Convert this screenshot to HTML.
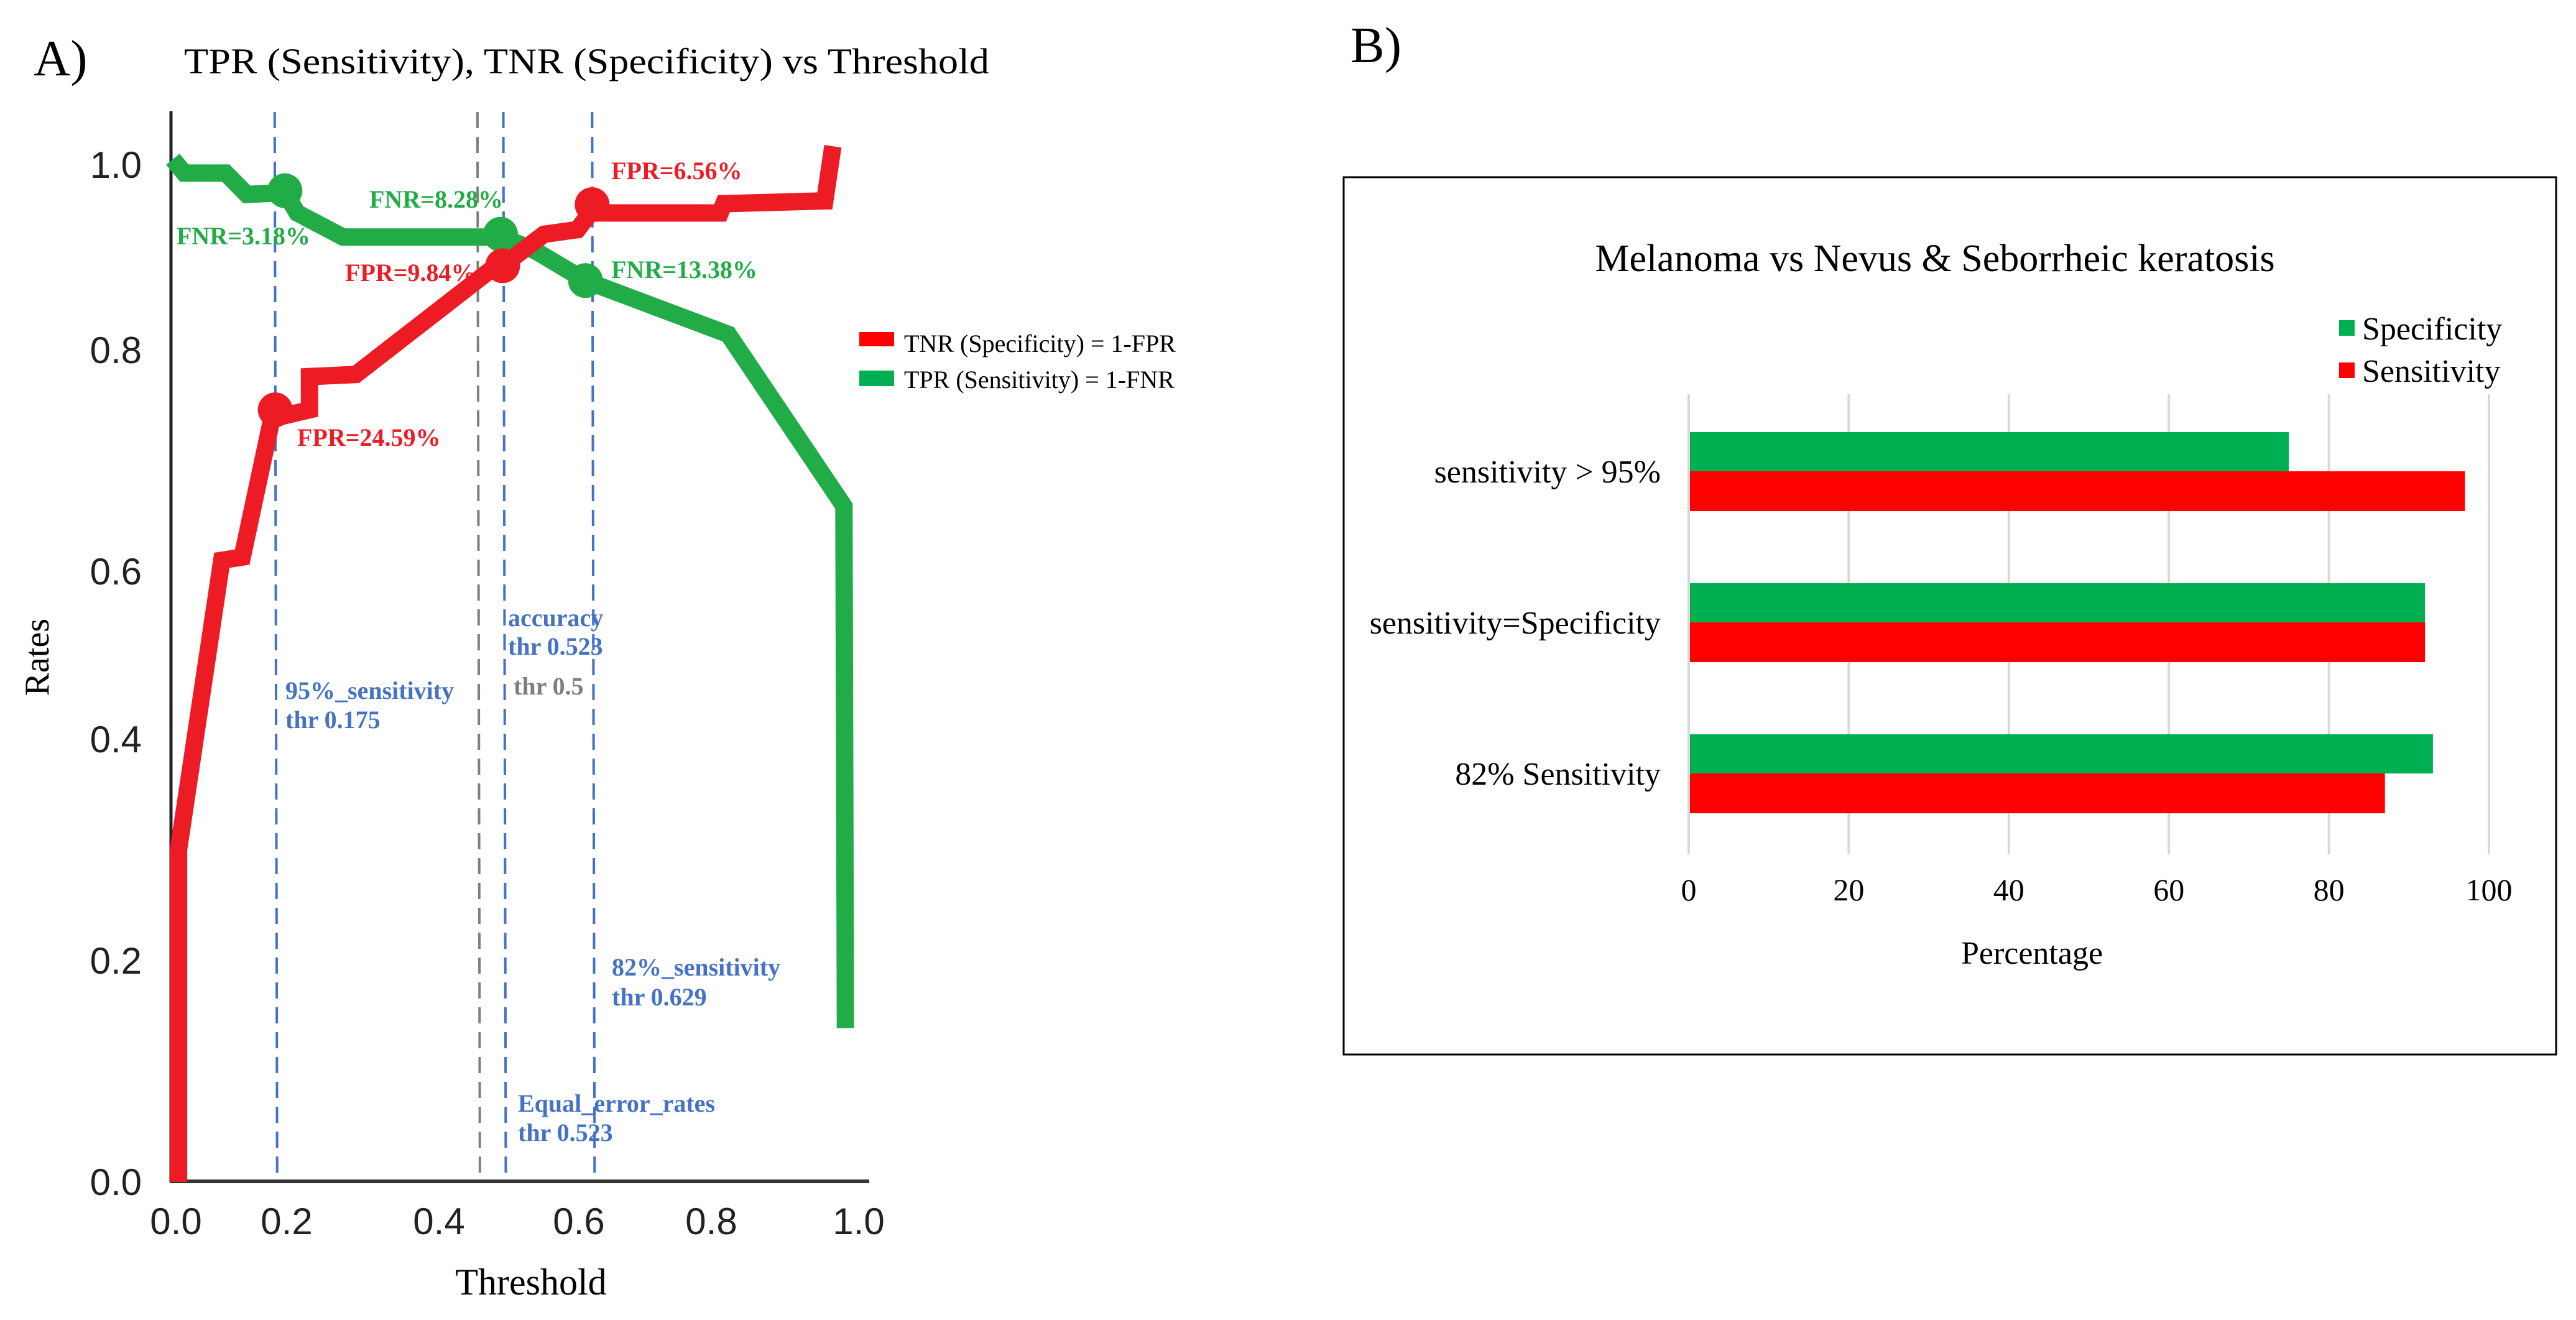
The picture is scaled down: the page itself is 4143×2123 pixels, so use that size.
<!DOCTYPE html>
<html><head><meta charset="utf-8"><style>
html,body{margin:0;padding:0;background:#fff;}
svg{display:block;}
.serif{font-family:"Liberation Serif",serif;}
.sans{font-family:"Liberation Sans",sans-serif;}
</style></head><body>
<svg id="fig" width="4143" height="2123" viewBox="0 0 4143 2123" xmlns="http://www.w3.org/2000/svg">
<rect width="4143" height="2123" fill="#fff"/>
<g id="panelA"></g>
<g id="panelB"></g>
</svg>
<script>
// ---------- Panel A data ----------
const xTicks = [0, 0.2, 0.4, 0.6, 0.8, 1.0];
const yTicks = [0, 0.2, 0.4, 0.6, 0.8, 1.0];
const xTickLabels = ["0.0","0.2","0.4","0.6","0.8","1.0"];
const yTickLabels = ["0.0","0.2","0.4","0.6","0.8","1.0"];
const tnrX = [0.01,0.01,0.086,0.122,0.174,0.23,0.23,0.291,0.478,0.491,0.55,0.598,0.617,0.812,0.817,0.954,0.965];
const tnrY = [0,0.30,0.61,0.613,0.738,0.746,0.776,0.778,0.889,0.891,0.925,0.930,0.948,0.948,0.958,0.961,1.02];
const tprX = [0,0.02,0.093,0.13,0.197,0.214,0.274,0.491,0.538,0.61,0.823,0.98,0.982];
const tprY = [1.006,0.991,0.991,0.968,0.970,0.948,0.922,0.922,0.907,0.875,0.817,0.659,0.139];
const tnrMarkX = [0.18,0.491,0.62];
const tnrMarkY = [0.746,0.891,0.957];
const tprMarkX = [0.197,0.488,0.61];
const tprMarkY = [0.972,0.925,0.875];
const vlineX = [0.179,0.455,0.492,0.620];
const vlineColor = ["#4472c4","#7f7f7f","#4472c4","#4472c4"];

// ---------- Panel B data ----------
const categories = ["sensitivity > 95%","sensitivity=Specificity","82% Sensitivity"];
const specificity = [75, 92, 93];
const sensitivity = [97, 92, 87];
const pctTicks = [0,20,40,60,80,100];

const NS="http://www.w3.org/2000/svg";
function mk(parent, tag, attrs, text){
  const e=document.createElementNS(NS,tag);
  for(const k in attrs) e.setAttribute(k,attrs[k]);
  if(text!==undefined) e.textContent=text;
  parent.appendChild(e); return e;
}
function piece(dom, rng){
  return v=>{
    for(let i=0;i<dom.length-1;i++){
      if(v<=dom[i+1]||i===dom.length-2){
        return rng[i]+(v-dom[i])/(dom[i+1]-dom[i])*(rng[i+1]-rng[i]);
      }
    }
  };
}
const X = piece(xTicks,[278,461,706,931,1144,1381]);
const Y = piece(yTicks,[1901,1545,1189,919,563,265]);

const A=document.getElementById('panelA');
let t;
t=mk(A,'text',{x:54,y:121,'font-size':82,class:'serif',fill:'#000'},'A)');


t=mk(A,'text',{x:296,y:118,'font-size':58,class:'serif',fill:'#000',textLength:1295,lengthAdjust:'spacingAndGlyphs'},'TPR (Sensitivity), TNR (Specificity) vs Threshold');



let ax=mk(A,'line',{x1:275,y1:179,x2:275,y2:1901,stroke:'#222','stroke-width':5});


ax=mk(A,'line',{x1:273,y1:1900,x2:1398,y2:1900,stroke:'#333','stroke-width':6});



xTicks.forEach((v,i)=>{
  const e=mk(A,'text',{x:X(v)+(i===0?5:0),y:1985,'font-size':60,class:'sans',fill:'#222','text-anchor':'middle'},xTickLabels[i]);
  
  
});
yTicks.forEach((v,i)=>{
  const e=mk(A,'text',{x:228,y:Y(v)+21,'font-size':60,class:'sans',fill:'#222','text-anchor':'end'},yTickLabels[i]);
  
  
});
t=mk(A,'text',{x:854,y:2082,'font-size':60,class:'serif',fill:'#000','text-anchor':'middle'},'Threshold');


t=mk(A,'text',{x:0,y:0,'font-size':56,class:'serif',fill:'#000','text-anchor':'middle',transform:'translate(78,1057) rotate(-90)'},'Rates');



vlineX.forEach((v,i)=>{
  const e=mk(A,'line',{x1:X(v),y1:180,x2:X(v)+4,y2:1895,stroke:vlineColor[i],'stroke-width':4,'stroke-dasharray':'26,14'});
  
  
});

function poly(xs,ys,color,name){
  const pts=xs.map((v,i)=>X(v).toFixed(1)+','+Y(ys[i]).toFixed(1)).join(' ');
  const e=mk(A,'polyline',{points:pts,fill:'none',stroke:color,'stroke-width':28,'stroke-linejoin':'miter','stroke-linecap':'butt'});
  
  
}
poly(tprX,tprY,'#22ac48','tpr-line');
poly(tnrX,tnrY,'#ed1c24','tnr-line');
tprMarkX.forEach((v,i)=>{
  const e=mk(A,'circle',{cx:X(v),cy:Y(tprMarkY[i]),r:28,fill:'#22ac48'});
  
  
});
tnrMarkX.forEach((v,i)=>{
  const e=mk(A,'circle',{cx:X(v),cy:Y(tnrMarkY[i]),r:28,fill:'#ed1c24'});
  
  
});

const ann=[
 ['FNR=3.18%',284,393,'#22ac48','fnr-annotation'],
 ['FNR=8.28%',594,334,'#22ac48','fnr-annotation'],
 ['FPR=6.56%',983,288,'#ed1c24','fpr-annotation'],
 ['FPR=9.84%',555,452,'#ed1c24','fpr-annotation'],
 ['FNR=13.38%',983,447,'#22ac48','fnr-annotation'],
 ['FPR=24.59%',478,717,'#ed1c24','fpr-annotation'],
 ['95%_sensitivity',459,1124,'#4472c4','threshold-annotation'],
 ['thr 0.175',459,1171,'#4472c4','threshold-annotation'],
 ['accuracy',817,1007,'#4472c4','threshold-annotation'],
 ['thr 0.523',817,1053,'#4472c4','threshold-annotation'],
 ['thr 0.5',826,1117,'#7f7f7f','threshold-annotation'],
 ['82%_sensitivity',984,1569,'#4472c4','threshold-annotation'],
 ['thr 0.629',984,1617,'#4472c4','threshold-annotation'],
 ['Equal_error_rates',833,1788,'#4472c4','threshold-annotation'],
 ['thr 0.523',833,1835,'#4472c4','threshold-annotation']
];
ann.forEach(a=>{
  const e=mk(A,'text',{x:a[1],y:a[2],'font-size':40,'font-weight':'bold',class:'serif',fill:a[3]},a[0]);
  
  
});
let lg=mk(A,'rect',{x:1382,y:534,width:56,height:23,fill:'#ff0000'});


lg=mk(A,'text',{x:1454,y:566,'font-size':40,class:'serif',fill:'#000'},'TNR (Specificity) = 1-FPR');


lg=mk(A,'rect',{x:1382,y:596,width:56,height:25,fill:'#00b050'});


lg=mk(A,'text',{x:1454,y:624,'font-size':40,class:'serif',fill:'#000'},'TPR (Sensitivity) = 1-FNR');



// ---------- Panel B ----------
const B=document.getElementById('panelB');
t=mk(B,'text',{x:2172,y:100,'font-size':82,class:'serif',fill:'#000'},'B)');


let box=mk(B,'rect',{x:2161,y:285,width:1950,height:1411,fill:'#fff',stroke:'#000','stroke-width':3});


t=mk(B,'text',{x:3112,y:436,'font-size':62,class:'serif',fill:'#000','text-anchor':'middle'},'Melanoma vs Nevus & Seborrheic keratosis');



const PX=v=>2716+v/100*(4003-2716);
pctTicks.forEach(v=>{
  const g=mk(B,'line',{x1:PX(v),y1:634,x2:PX(v),y2:1374,stroke:'#d9d9d9','stroke-width':4});
  
  
  const e=mk(B,'text',{x:PX(v),y:1448,'font-size':50,class:'serif',fill:'#000','text-anchor':'middle'},String(v));
  
  
});
const groupTop=[695,938,1181];
const barH=63;
categories.forEach((c,i)=>{
  const g=mk(B,'rect',{x:PX(0)+2,y:groupTop[i],width:PX(specificity[i])-PX(0)-2,height:barH,fill:'#00b050'});
  
  
  const r=mk(B,'rect',{x:PX(0)+2,y:groupTop[i]+barH,width:PX(sensitivity[i])-PX(0)-2,height:barH+1,fill:'#ff0000'});
  
  
  const l=mk(B,'text',{x:2671,y:groupTop[i]+barH+18,'font-size':52,class:'serif',fill:'#000','text-anchor':'end'},c);
  
  
});
t=mk(B,'text',{x:3268,y:1550,'font-size':52,class:'serif',fill:'#000','text-anchor':'middle'},'Percentage');


lg=mk(B,'rect',{x:3762,y:515,width:25,height:25,fill:'#00b050'});


lg=mk(B,'text',{x:3799,y:546,'font-size':52,class:'serif',fill:'#000'},'Specificity');


lg=mk(B,'rect',{x:3762,y:583,width:25,height:25,fill:'#ff0000'});


lg=mk(B,'text',{x:3799,y:614,'font-size':52,class:'serif',fill:'#000'},'Sensitivity');


</script>
</body></html>
